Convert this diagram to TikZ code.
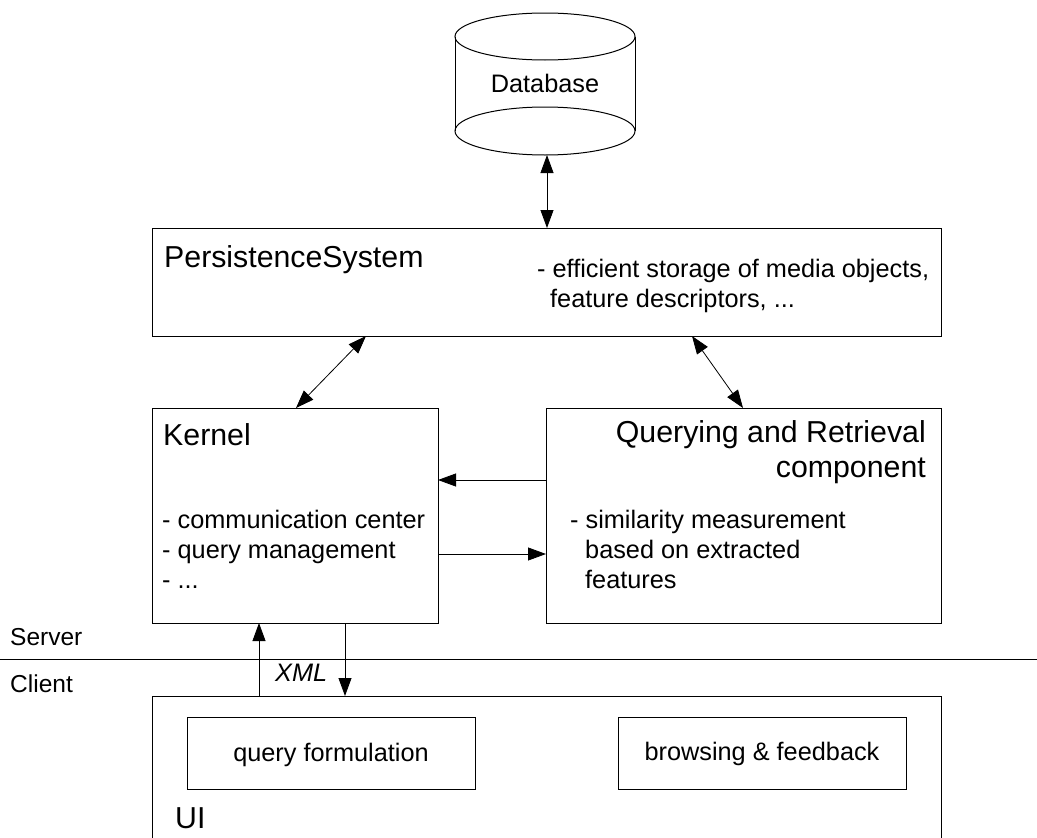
\documentclass[tikz,border=0pt]{standalone}
\usepackage{fontspec}
\setmainfont{Liberation Sans}
\usetikzlibrary{arrows.meta,calc}
\begin{document}
\begin{tikzpicture}[x=1pt,y=-1pt,
  box/.style={draw, line width=1pt, inner sep=0pt, outer sep=0pt, anchor=north west},
  body/.style={font=\fontsize{25.3}{30}\selectfont, inner sep=0pt, anchor=base west},
  title/.style={font=\fontsize{30.3}{34.5}\selectfont, inner sep=0pt, anchor=base west},
  side/.style={font=\fontsize{24.5}{29}\selectfont, inner sep=0pt, anchor=base west},
  link/.style={line width=0.8pt, {Triangle[length=18pt,width=13pt]}-{Triangle[length=18pt,width=13pt]}},
  one/.style={line width=0.8pt, -{Triangle[length=18pt,width=13pt]}}]
\useasboundingbox (0,0) rectangle (1037,838);
% database cylinder
\draw[line width=1pt] (455,36.5) -- (455,131) (635,36.5) -- (635,131);
\draw[line width=1pt] (545,36.5) ellipse [x radius=90pt, y radius=23.5pt];
\draw[line width=1pt] (545,131) ellipse [x radius=90pt, y radius=24pt];
\node[inner sep=0pt, outer sep=0pt, minimum width=180pt, minimum height=142pt] (db) at (545,84) {};
\node[body, anchor=base] (dbt) at (545,92) {Database};
% persistence system
\node[box, minimum width=789pt, minimum height=108pt] (ps) at (152,228) {};
\node[title] (pst) at (164,267) {PersistenceSystem};
\node[body] (psd1) at (537,277) {- efficient storage of media objects,};
\node[body] (psd2) at (550,307) {feature descriptors, ...};
% kernel
\node[box, minimum width=286pt, minimum height=215pt] (k) at (152,408) {};
\node[title] (kt) at (163,445) {Kernel};
\node[body] (kd1) at (162,528) {- communication center};
\node[body] (kd2) at (162,558) {- query management};
\node[body] (kd3) at (162,588) {- ...};
% querying and retrieval
\node[box, minimum width=395pt, minimum height=215pt] (qr) at (546,408) {};
\node[title, anchor=base east] (qrt1) at (926,442) {Querying and Retrieval};
\node[title, anchor=base east] (qrt2) at (926,477) {component};
\node[body] (qrd1) at (570,528) {- similarity measurement};
\node[body] (qrd2) at (585,558) {based on extracted};
\node[body] (qrd3) at (585,588) {features};
% server / client
\coordinate (sl) at (0,659);
\coordinate (sr) at (1037,659);
\draw[line width=1pt] (sl) -- (sr);
\node[side] (srv) at (10,645) {Server};
\node[side] (cli) at (10,692) {Client};
% UI
\node[box, minimum width=789pt, minimum height=170pt] (ui) at (152,696) {};
\node[title] (uit) at (175,828) {UI};
\node[box, minimum width=288pt, minimum height=72pt] (qf) at (187,717) {};
\node[body, anchor=base] (qft) at (331,761) {query formulation};
\node[box, minimum width=288pt, minimum height=72pt] (bf) at (618,717) {};
\node[body, anchor=base] (bft) at (762,760) {browsing \& feedback};
\node[body, font=\fontsize{25.3}{30}\selectfont\itshape] (xml) at (275,681) {XML};
% connectors
\draw[link] ($(db.south)+(2,0)$) -- ($(ps.north west)+(395,0)$);
\draw[link] ($(ps.south west)+(214,0)$) -- ($(k.north west)+(144,0)$);
\draw[link] ($(ps.south west)+(540,0)$) -- ($(qr.north west)+(197,0)$);
\draw[one] ($(qr.north west)+(0,72)$) -- ($(k.north east)+(0,72)$);
\draw[one] ($(k.north east)+(0,146)$) -- ($(qr.north west)+(0,146)$);
\draw[one] ($(ui.north west)+(107,0)$) -- ($(k.south west)+(107,0)$);
\draw[one] ($(k.south west)+(193,0)$) -- ($(ui.north west)+(193,0)$);
\end{tikzpicture}
\end{document}
